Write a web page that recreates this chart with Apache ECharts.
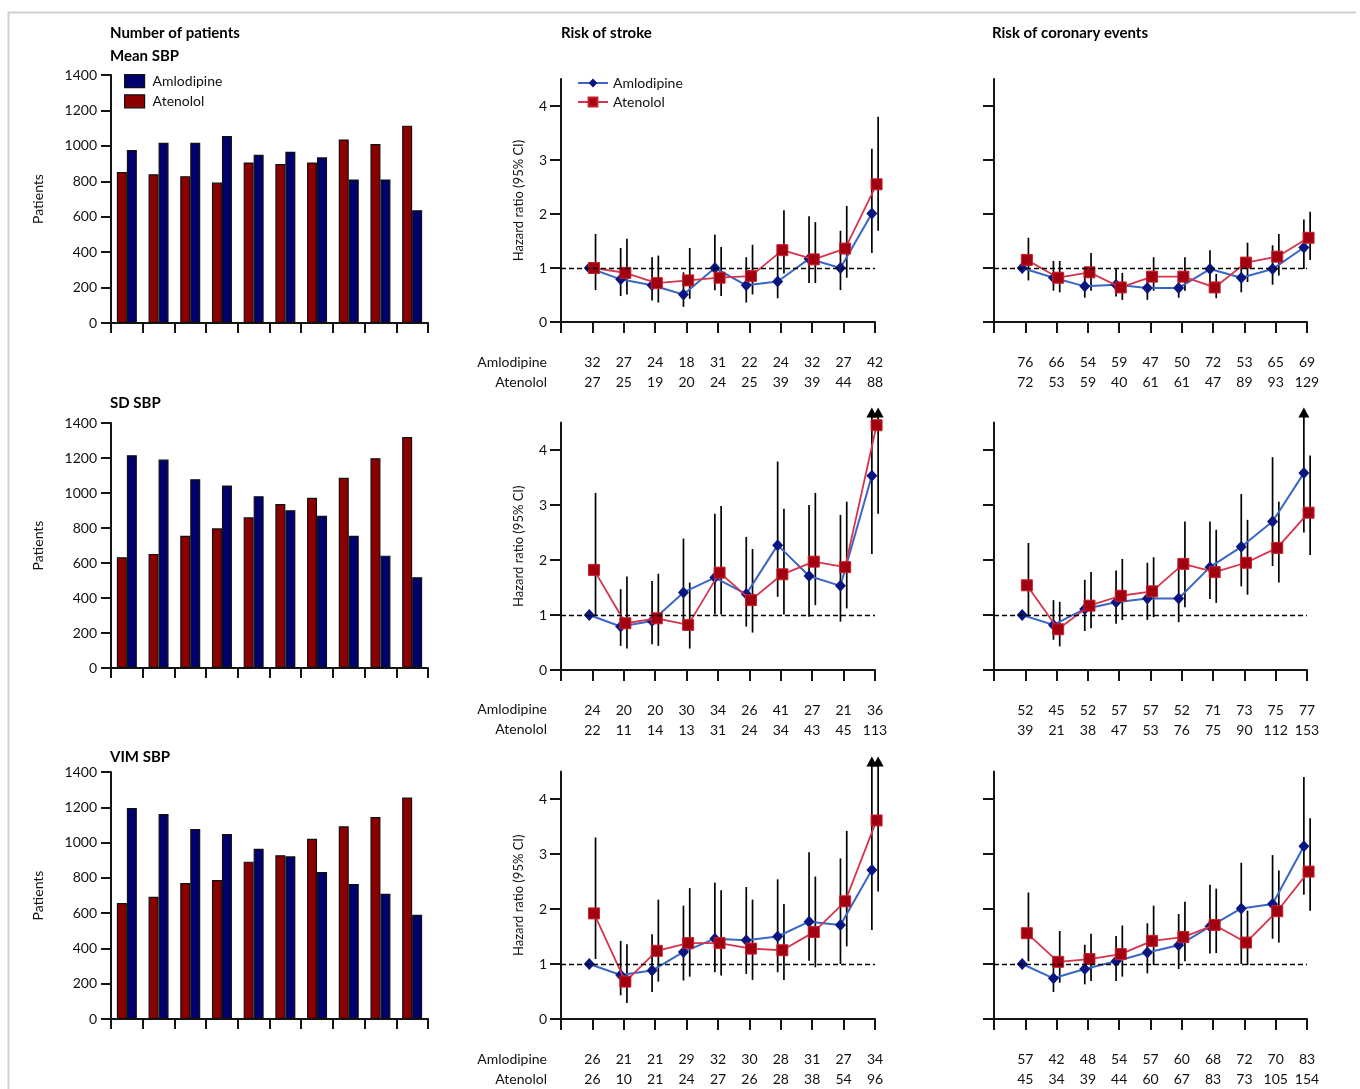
<!DOCTYPE html>
<html>
<head>
<meta charset="utf-8">
<title>Blood pressure variability, patient numbers and risk of stroke and coronary events</title>
<script src="https://cdn.jsdelivr.net/npm/echarts@6/dist/echarts.min.js"></script>
<style>
  html, body { margin: 0; padding: 0; background: #fff; }
  #chart { width: 1360px; height: 1089px; }
</style>
</head>
<body>
<div id="chart"></div>
<script>
// Deciles of each systolic blood pressure measure (1 = lowest)
const deciles = ['1', '2', '3', '4', '5', '6', '7', '8', '9', '10'];
const rowTitles = ['Mean SBP', 'SD SBP', 'VIM SBP'];
const hrTicks = [0, 1, 2, 3, 4];

// Number of patients in each decile
const patientsMeanAmlodipine = [976, 1017, 1017, 1055, 950, 967, 935, 810, 810, 637];
const patientsMeanAtenolol   = [853, 840, 829, 793, 906, 897, 906, 1036, 1010, 1114];
const patientsSdAmlodipine   = [1216, 1191, 1079, 1043, 982, 902, 870, 756, 642, 519];
const patientsSdAtenolol     = [633, 652, 756, 798, 861, 937, 973, 1087, 1199, 1320];
const patientsVimAmlodipine  = [1196, 1162, 1077, 1049, 965, 922, 833, 765, 710, 591];
const patientsVimAtenolol    = [657, 693, 771, 788, 892, 928, 1022, 1092, 1145, 1256];

// Hazard ratios with 95% CI (Infinity = upper limit off the scale)
// Stroke, mean SBP
const strokeMeanAmlHR = [1.00, 0.79, 0.68, 0.51, 1.00, 0.68, 0.75, 1.17, 1.00, 2.01];
const strokeMeanAmlLo = [null, 0.48, 0.40, 0.28, 0.59, 0.36, 0.44, 0.72, 0.59, 1.28];
const strokeMeanAmlHi = [null, 1.37, 1.20, 0.92, 1.62, 1.20, 1.22, 1.96, 1.69, 3.21];
const strokeMeanAteHR = [1.00, 0.91, 0.72, 0.77, 0.82, 0.85, 1.33, 1.16, 1.36, 2.55];
const strokeMeanAteLo = [0.59, 0.51, 0.36, 0.43, 0.48, 0.51, 0.90, 0.72, 0.82, 1.69];
const strokeMeanAteHi = [1.63, 1.54, 1.23, 1.37, 1.39, 1.43, 2.07, 1.85, 2.15, 3.80];
// Coronary events, mean SBP
const coronaryMeanAmlHR = [1.00, 0.82, 0.66, 0.69, 0.63, 0.63, 0.98, 0.82, 0.98, 1.38];
const coronaryMeanAmlLo = [null, 0.58, 0.45, 0.47, 0.41, 0.45, 0.72, 0.55, 0.69, 0.98];
const coronaryMeanAmlHi = [null, 1.13, 0.89, 1.00, 0.92, 0.89, 1.33, 1.13, 1.42, 1.90];
const coronaryMeanAteHR = [1.15, 0.82, 0.92, 0.64, 0.84, 0.84, 0.64, 1.10, 1.21, 1.56];
const coronaryMeanAteLo = [0.77, 0.55, 0.58, 0.41, 0.58, 0.58, 0.44, 0.74, 0.86, 1.15];
const coronaryMeanAteHi = [1.56, 1.13, 1.28, 0.91, 1.20, 1.20, 0.89, 1.47, 1.63, 2.04];
// Stroke, SD SBP
const strokeSdAmlHR = [1.00, 0.79, 0.89, 1.41, 1.68, 1.38, 2.27, 1.71, 1.53, 3.53];
const strokeSdAmlLo = [null, 0.44, 0.47, 0.80, 1.01, 0.79, 1.33, 0.97, 0.88, 2.11];
const strokeSdAmlHi = [null, 1.47, 1.62, 2.39, 2.84, 2.42, 3.79, 3.00, 2.82, Infinity];
const strokeSdAteHR = [1.82, 0.85, 0.94, 0.82, 1.77, 1.27, 1.74, 1.97, 1.87, 4.45];
const strokeSdAteLo = [1.00, 0.39, 0.44, 0.39, 1.01, 0.68, 1.01, 1.18, 1.12, 2.84];
const strokeSdAteHi = [3.22, 1.70, 1.75, 1.59, 2.98, 2.20, 2.93, 3.22, 3.06, Infinity];
// Coronary events, SD SBP
const coronarySdAmlHR = [1.00, 0.82, 1.11, 1.23, 1.30, 1.30, 1.87, 2.24, 2.70, 3.58];
const coronarySdAmlLo = [null, 0.55, 0.71, 0.84, 0.91, 0.87, 1.29, 1.52, 1.89, 2.50];
const coronarySdAmlHi = [null, 1.27, 1.64, 1.81, 1.95, 1.96, 2.70, 3.20, 3.87, Infinity];
const coronarySdAteHR = [1.54, 0.74, 1.17, 1.35, 1.43, 1.93, 1.78, 1.95, 2.22, 2.86];
const coronarySdAteLo = [0.97, 0.43, 0.76, 0.91, 0.96, 1.14, 1.22, 1.37, 1.59, 2.09];
const coronarySdAteHi = [2.31, 1.24, 1.78, 2.02, 2.05, 2.70, 2.55, 2.73, 3.06, 3.90];
// Stroke, VIM SBP
const strokeVimAmlHR = [1.00, 0.80, 0.88, 1.22, 1.46, 1.43, 1.50, 1.77, 1.71, 2.71];
const strokeVimAmlLo = [null, 0.43, 0.49, 0.70, 0.85, 0.82, 0.85, 1.06, 1.00, 1.62];
const strokeVimAmlHi = [null, 1.42, 1.54, 2.06, 2.48, 2.40, 2.54, 3.03, 2.92, Infinity];
const strokeVimAteHR = [1.92, 0.68, 1.24, 1.38, 1.38, 1.28, 1.25, 1.58, 2.14, 3.61];
const strokeVimAteLo = [1.09, 0.29, 0.68, 0.77, 0.79, 0.71, 0.71, 0.94, 1.32, 2.32];
const strokeVimAteHi = [3.30, 1.36, 2.17, 2.38, 2.34, 2.17, 2.09, 2.59, 3.42, Infinity];
// Coronary events, VIM SBP
const coronaryVimAmlHR = [1.00, 0.74, 0.91, 1.05, 1.21, 1.34, 1.68, 2.01, 2.09, 3.14];
const coronaryVimAmlLo = [null, 0.49, 0.63, 0.69, 0.83, 0.91, 1.19, 1.00, 1.46, 2.26];
const coronaryVimAmlHi = [null, 1.10, 1.35, 1.51, 1.74, 1.91, 2.44, 2.84, 2.98, 4.40];
const coronaryVimAteHR = [1.56, 1.04, 1.09, 1.18, 1.42, 1.49, 1.71, 1.39, 1.96, 2.68];
const coronaryVimAteLo = [1.05, 0.66, 0.69, 0.77, 0.98, 1.05, 1.20, 0.98, 1.39, 1.97];
const coronaryVimAteHi = [2.30, 1.60, 1.55, 1.70, 2.06, 2.13, 2.37, 1.97, 2.70, 3.65];

// Number of events per decile
const strokeMeanAmlN   = [32, 27, 24, 18, 31, 22, 24, 32, 27, 42];
const strokeMeanAteN   = [27, 25, 19, 20, 24, 25, 39, 39, 44, 88];
const coronaryMeanAmlN = [76, 66, 54, 59, 47, 50, 72, 53, 65, 69];
const coronaryMeanAteN = [72, 53, 59, 40, 61, 61, 47, 89, 93, 129];
const strokeSdAmlN     = [24, 20, 20, 30, 34, 26, 41, 27, 21, 36];
const strokeSdAteN     = [22, 11, 14, 13, 31, 24, 34, 43, 45, 113];
const coronarySdAmlN   = [52, 45, 52, 57, 57, 52, 71, 73, 75, 77];
const coronarySdAteN   = [39, 21, 38, 47, 53, 76, 75, 90, 112, 153];
const strokeVimAmlN    = [26, 21, 21, 29, 32, 30, 28, 31, 27, 34];
const strokeVimAteN    = [26, 10, 21, 24, 27, 26, 28, 38, 54, 96];
const coronaryVimAmlN  = [57, 42, 48, 54, 57, 60, 68, 72, 70, 83];
const coronaryVimAteN  = [45, 34, 39, 44, 60, 67, 83, 73, 105, 154];

// ---- assemble panels ----
const rowsData = [
  {
    bars: [patientsMeanAmlodipine, patientsMeanAtenolol],
    stroke: { aml: [strokeMeanAmlHR, strokeMeanAmlLo, strokeMeanAmlHi], ate: [strokeMeanAteHR, strokeMeanAteLo, strokeMeanAteHi], n: [strokeMeanAmlN, strokeMeanAteN] },
    coronary: { aml: [coronaryMeanAmlHR, coronaryMeanAmlLo, coronaryMeanAmlHi], ate: [coronaryMeanAteHR, coronaryMeanAteLo, coronaryMeanAteHi], n: [coronaryMeanAmlN, coronaryMeanAteN] }
  },
  {
    bars: [patientsSdAmlodipine, patientsSdAtenolol],
    stroke: { aml: [strokeSdAmlHR, strokeSdAmlLo, strokeSdAmlHi], ate: [strokeSdAteHR, strokeSdAteLo, strokeSdAteHi], n: [strokeSdAmlN, strokeSdAteN] },
    coronary: { aml: [coronarySdAmlHR, coronarySdAmlLo, coronarySdAmlHi], ate: [coronarySdAteHR, coronarySdAteLo, coronarySdAteHi], n: [coronarySdAmlN, coronarySdAteN] }
  },
  {
    bars: [patientsVimAmlodipine, patientsVimAtenolol],
    stroke: { aml: [strokeVimAmlHR, strokeVimAmlLo, strokeVimAmlHi], ate: [strokeVimAteHR, strokeVimAteLo, strokeVimAteHi], n: [strokeVimAmlN, strokeVimAteN] },
    coronary: { aml: [coronaryVimAmlHR, coronaryVimAmlLo, coronaryVimAmlHi], ate: [coronaryVimAteHR, coronaryVimAteLo, coronaryVimAteHi], n: [coronaryVimAmlN, coronaryVimAteN] }
  }
];

// ---- layout & style ----
const FONT = 'Lato, "Open Sans", sans-serif';
const INK = '#141414';
const TEXT = '#111';
const HR_MAX = 4.5;
const AML_BAR = '#00006e', ATE_BAR = '#8c0000';
const AML_LINE = '#3a66c4', AML_MARK = '#0a1680';
const ATE_LINE = '#d6334d', ATE_MARK = '#a10010';

const rowGeom = [
  { barTop: 75,  barH: 248, hrTop: 79,    hrH: 243,   countY: 362 },
  { barTop: 423, barH: 245, hrTop: 422.5, hrH: 247.5, countY: 709 },
  { barTop: 772, barH: 247, hrTop: 771.5, hrH: 248,   countY: 1059 }
];
const colGeom = [
  { left: 111, width: 317 },
  { left: 561, width: 314 },
  { left: 994, width: 313 }
];
const AML_SHIFT = -0.1, ATE_SHIFT = 0.05, ATE_CI_SHIFT = 0.1;

const grids = [], xAxes = [], yAxes = [];
const lineSeries = [], otherSeries = [];
const axisLineStyle = { color: INK, width: 2 };

function errorBars(idx, shift, hr, lo, hi) {
  const data = [];
  hr.forEach((v, i) => {
    if (lo[i] == null) return;
    const off = !isFinite(hi[i]);
    data.push([i + 1 + shift, lo[i], off ? HR_MAX : hi[i], off ? 1 : 0]);
  });
  return {
    type: 'custom',
    xAxisIndex: idx, yAxisIndex: idx,
    silent: true, clip: false, z: 1,
    data,
    encode: { x: 0, y: [1, 2] },
    renderItem(params, api) {
      const x = api.value(0);
      const pLo = api.coord([x, api.value(1)]);
      const pHi = api.coord([x, api.value(2)]);
      const off = api.value(3) === 1;
      const children = [];
      const topY = off ? pHi[1] - 6 : pHi[1];
      children.push({
        type: 'line',
        shape: { x1: pLo[0], y1: pLo[1], x2: pLo[0], y2: topY },
        style: { stroke: '#000', lineWidth: 1.7 }
      });
      if (off) {
        children.push({
          type: 'polygon',
          shape: { points: [[pLo[0] - 5.5, topY + 1], [pLo[0] + 5.5, topY + 1], [pLo[0], topY - 9]] },
          style: { fill: '#000' }
        });
      }
      return { type: 'group', children };
    }
  };
}

rowsData.forEach((row, r) => {
  const g = rowGeom[r];
  // patients bar chart
  const bi = r * 3;
  grids.push({ left: colGeom[0].left, top: g.barTop, width: colGeom[0].width, height: g.barH });
  xAxes.push({
    gridIndex: bi, type: 'category', data: deciles,
    axisLine: { show: true, lineStyle: axisLineStyle },
    axisTick: { show: true, length: 10, interval: 0, lineStyle: axisLineStyle },
    axisLabel: { show: false }, splitLine: { show: false }
  });
  yAxes.push({
    gridIndex: bi, type: 'value', min: 0, max: 1400, interval: 200,
    axisLine: { show: true, lineStyle: axisLineStyle },
    axisTick: { show: true, length: 10, lineStyle: axisLineStyle },
    axisLabel: { fontSize: 14, margin: 14, color: TEXT, fontFamily: FONT, formatter: v => String(v) },
    splitLine: { show: false },
    name: 'Patients', nameLocation: 'middle', nameGap: 66,
    nameTextStyle: { fontSize: 14, color: TEXT, fontFamily: FONT }
  });
  otherSeries.push({
    type: 'bar', name: 'Atenolol', xAxisIndex: bi, yAxisIndex: bi,
    data: row.bars[1], barWidth: 10, barGap: '0%',
    itemStyle: { color: ATE_BAR, borderColor: '#111', borderWidth: 1.2 }
  });
  otherSeries.push({
    type: 'bar', name: 'Amlodipine', xAxisIndex: bi, yAxisIndex: bi,
    data: row.bars[0], barWidth: 10, barGap: '0%',
    itemStyle: { color: AML_BAR, borderColor: '#111', borderWidth: 1.2 }
  });

  // hazard ratio panels
  [['stroke', 1], ['coronary', 2]].forEach(([key, c]) => {
    const idx = r * 3 + c;
    const p = row[key];
    grids.push({ left: colGeom[c].left, top: g.hrTop, width: colGeom[c].width, height: g.hrH });
    xAxes.push({
      gridIndex: idx, type: 'value', min: 0, max: 10, interval: 1,
      axisLine: { show: true, onZero: false, lineStyle: axisLineStyle },
      axisTick: { show: true, length: 11, lineStyle: axisLineStyle },
      splitLine: { show: false },
      axisLabel: {
        margin: 30, fontSize: 14, lineHeight: 20, color: TEXT, fontFamily: FONT,
        formatter: v => (v >= 1 && v <= 10) ? p.n[0][v - 1] + '\n' + p.n[1][v - 1] : ''
      }
    });
    yAxes.push({
      gridIndex: idx, type: 'value', min: 0, max: HR_MAX, interval: 1,
      axisLine: { show: true, onZero: false, lineStyle: axisLineStyle },
      axisTick: { show: true, length: 11, customValues: hrTicks, lineStyle: axisLineStyle },
      axisLabel: { show: c === 1, customValues: hrTicks, fontSize: 14, margin: 14, color: TEXT, fontFamily: FONT },
      splitLine: { show: false },
      name: c === 1 ? 'Hazard ratio (95% CI)' : '', nameLocation: 'middle', nameGap: 36,
      nameTextStyle: { fontSize: 13, color: TEXT, fontFamily: FONT }
    });
    otherSeries.push(errorBars(idx, AML_SHIFT, p.aml[0], p.aml[1], p.aml[2]));
    otherSeries.push(errorBars(idx, ATE_CI_SHIFT, p.ate[0], p.ate[1], p.ate[2]));
    lineSeries.push({
      type: 'line', name: 'Amlodipine', xAxisIndex: idx, yAxisIndex: idx, z: 3, clip: false,
      data: p.aml[0].map((v, i) => [i + 1 + AML_SHIFT, v]),
      symbol: 'diamond', symbolSize: [11, 12], showSymbol: true,
      itemStyle: { color: AML_MARK },
      lineStyle: { color: AML_LINE, width: 2 },
      emphasis: { disabled: true },
      markLine: {
        silent: true, symbol: 'none', label: { show: false },
        lineStyle: { color: '#000', type: [5, 3], width: 1.4 },
        data: [{ yAxis: 1 }]
      }
    });
    lineSeries.push({
      type: 'line', name: 'Atenolol', xAxisIndex: idx, yAxisIndex: idx, z: 4, clip: false,
      data: p.ate[0].map((v, i) => [i + 1 + ATE_SHIFT, v]),
      symbol: 'rect', symbolSize: 11, showSymbol: true,
      itemStyle: { color: ATE_MARK, borderColor: '#c8202e', borderWidth: 1 },
      lineStyle: { color: ATE_LINE, width: 1.8 },
      emphasis: { disabled: true }
    });
  });
});

const titleStyle = { fontSize: 15, fontWeight: 'bold', color: '#000', fontFamily: FONT };
const titles = [
  { text: 'Number of patients', left: 110, top: 26 },
  { text: rowTitles[0], left: 110, top: 49 },
  { text: rowTitles[1], left: 110, top: 396 },
  { text: rowTitles[2], left: 110, top: 750 },
  { text: 'Risk of stroke', left: 561, top: 26 },
  { text: 'Risk of coronary events', left: 992, top: 26 }
].map(t => Object.assign({ padding: 0, textStyle: titleStyle }, t));

const graphics = [
  { type: 'line', shape: { x1: 8, y1: 12.5, x2: 1356, y2: 12.5 }, style: { stroke: '#cfcfcf', lineWidth: 2 } },
  { type: 'line', shape: { x1: 8.5, y1: 12, x2: 8.5, y2: 1089 }, style: { stroke: '#cfcfcf', lineWidth: 2 } }
];
rowGeom.forEach(g => {
  graphics.push({ type: 'text', style: { x: 547, y: g.countY, text: 'Amlodipine', align: 'right', verticalAlign: 'middle', font: '14px ' + FONT, fill: TEXT } });
  graphics.push({ type: 'text', style: { x: 547, y: g.countY + 20, text: 'Atenolol', align: 'right', verticalAlign: 'middle', font: '14px ' + FONT, fill: TEXT } });
});

const chart = echarts.init(document.getElementById('chart'), null, { renderer: 'canvas' });
chart.setOption({
  backgroundColor: '#fff',
  animation: false,
  textStyle: { fontFamily: FONT },
  title: titles,
  legend: [
    {
      left: 124, top: 74, padding: 0, orient: 'vertical', selectedMode: false,
      itemWidth: 20, itemHeight: 13, itemGap: 6,
      textStyle: { fontSize: 14, color: TEXT, fontFamily: FONT, padding: [0, 0, 0, 3] },
      data: [
        { name: 'Amlodipine', icon: 'rect', itemStyle: { color: AML_BAR, borderColor: '#111', borderWidth: 1.2 } },
        { name: 'Atenolol', icon: 'rect', itemStyle: { color: ATE_BAR, borderColor: '#111', borderWidth: 1.2 } }
      ]
    },
    {
      left: 577, top: 76, padding: 0, orient: 'vertical', selectedMode: false,
      itemWidth: 30, itemHeight: 11, itemGap: 5,
      textStyle: { fontSize: 14, color: TEXT, fontFamily: FONT },
      data: ['Amlodipine', 'Atenolol']
    }
  ],
  grid: grids,
  xAxis: xAxes,
  yAxis: yAxes,
  series: lineSeries.concat(otherSeries),
  graphic: graphics
});
</script>
</body>
</html>
